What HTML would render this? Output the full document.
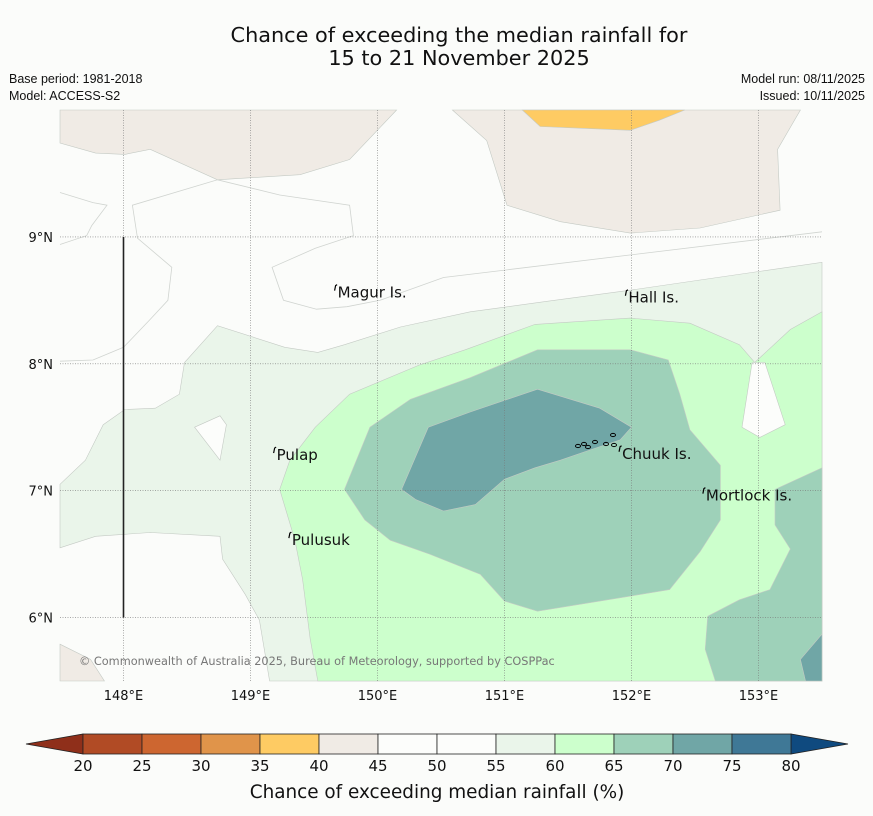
<!DOCTYPE html>
<html><head><meta charset="utf-8">
<style>
body{margin:0;background:#fbfcfa;width:873px;height:816px;overflow:hidden;font-family:"DejaVu Sans",sans-serif;}
</style></head>
<body>
<svg id="chart" width="873" height="816" xmlns="http://www.w3.org/2000/svg" style="position:absolute;left:0;top:0" font-family="DejaVu Sans, sans-serif">
<rect x="0" y="0" width="873" height="816" fill="#fbfcfa"/>
<text x="459" y="42" font-size="20.8" text-anchor="middle" fill="#111">Chance of exceeding the median rainfall for</text>
<text x="459" y="65" font-size="20.8" text-anchor="middle" fill="#111">15 to 21 November 2025</text>
<text x="9" y="83" font-size="12.5" font-family="Liberation Sans, sans-serif" fill="#111">Base period: 1981-2018</text>
<text x="9" y="100" font-size="12.5" font-family="Liberation Sans, sans-serif" fill="#111">Model: ACCESS-S2</text>
<text x="865" y="83" font-size="12.5" font-family="Liberation Sans, sans-serif" fill="#111" text-anchor="end">Model run: 08/11/2025</text>
<text x="865" y="100" font-size="12.5" font-family="Liberation Sans, sans-serif" fill="#111" text-anchor="end">Issued: 10/11/2025</text>
<g id="map"></g>
<g id="cbar"></g>
<text x="437" y="798" font-size="18.4" text-anchor="middle" fill="#111">Chance of exceeding median rainfall (%)</text>
</svg>
<script>
const lonTicks=[148,149,150,151,152,153];
const latTicks=[6,7,8,9];
const binEdges=[20,25,30,35,40,45,50,55,60,65,70,75,80];
const binColors=["#b14b25","#cd6630","#e0944a","#fecb63","#f0ebe5","#fcfdfb","#fcfdfb","#eaf5ea","#ccffcc","#9ed1b9","#70a6a6","#3f7896"];
const underColor="#8f2f1a", overColor="#0f4a7f";
const contourLevels=[40,40,35,40,55,45,60,45,65,65,70,70];
const contourPolys=[
 [[147.5,10],[150.15,10],[149.78,9.61],[149.39,9.49],[148.74,9.45],[148.21,9.69],[148.01,9.65],[147.78,9.66],[147.5,9.74]],
 [[150.59,10],[153.33,10],[153.15,9.69],[153.17,9.21],[152.54,9.07],[151.99,9.03],[151.44,9.12],[151.02,9.25],[150.86,9.76]],
 [[151.14,10],[152.42,10],[152.22,9.92],[151.99,9.84],[151.28,9.87]],
 [[147.5,5.79],[147.74,5.67],[147.85,5.5],[147.5,5.5]],
 [[147.5,7.05],[147.70,7.24],[147.84,7.52],[148.01,7.64],[148.25,7.65],[148.44,7.76],[148.48,8.01],[148.74,8.30],[149.27,8.13],[149.53,8.09],[149.74,8.15],[150.18,8.29],[150.73,8.41],[151.32,8.49],[151.99,8.58],[152.54,8.66],[153.5,8.80],[153.5,5.5],[149.15,5.5],[149.07,5.98],[148.96,6.18],[148.78,6.46],[148.76,6.64],[148.21,6.67],[147.78,6.64],[147.5,6.55]],
 [[148.56,7.50],[148.76,7.59],[148.81,7.52],[148.76,7.24]],
 [[149.23,7.01],[149.31,7.24],[149.51,7.50],[149.78,7.76],[150.33,7.99],[150.69,8.11],[151.24,8.31],[151.99,8.36],[152.46,8.32],[152.85,8.15],[152.97,8.01],[153.25,8.27],[153.5,8.41],[153.5,5.5],[149.53,5.5],[149.47,5.83],[149.41,6.30],[149.35,6.61]],
 [[152.87,7.50],[152.95,8.01],[153.05,8.01],[153.21,7.52],[153.01,7.42]],
 [[149.74,7.01],[149.94,7.50],[150.26,7.72],[150.73,7.89],[151.26,8.11],[151.99,8.11],[152.29,8.03],[152.38,7.76],[152.46,7.48],[152.70,7.20],[152.70,6.77],[152.54,6.52],[152.30,6.22],[151.75,6.13],[151.26,6.05],[151.00,6.13],[150.81,6.34],[150.41,6.50],[150.10,6.61],[149.90,6.77]],
 [[152.60,6.01],[152.85,6.14],[153.09,6.22],[153.25,6.54],[153.13,6.73],[153.13,7.01],[153.5,7.18],[153.5,5.5],[152.66,5.5],[152.58,5.75]],
 [[150.19,7.01],[150.40,7.50],[150.73,7.62],[151.26,7.80],[151.75,7.65],[152.00,7.50],[151.91,7.40],[151.67,7.32],[151.44,7.24],[151.24,7.18],[151.00,7.09],[150.77,6.89],[150.52,6.84],[150.30,6.93]],
 [[153.33,5.67],[153.5,5.87],[153.5,5.5],[153.37,5.5]]
];
const contourLines=[
 [[147.5,9.35],[147.76,9.27],[147.87,9.25],[147.75,9.09],[147.71,9.01],[147.5,8.94]],
 [[147.5,8.02],[147.76,8.03],[148.0,8.13],[148.21,8.35],[148.35,8.50],[148.38,8.76],[148.11,8.99],[148.07,9.25],[148.74,9.45],[149.23,9.33],[149.78,9.25],[149.81,9.01],[149.51,8.91],[149.17,8.76],[149.26,8.50],[149.52,8.43],[149.76,8.45],[150.02,8.50],[150.52,8.68],[153.5,9.04]]
];
const islandNames=["Magur Is.","Hall Is.","Pulap","Chuuk Is.","Mortlock Is.","Pulusuk"];
const islandLon=[149.67,151.96,149.19,151.91,152.57,149.31];
const islandLat=[8.60,8.56,7.32,7.33,7.00,6.65];

const NS="http://www.w3.org/2000/svg";
const X0=60,Y0=110,W=762,H=571,lonMin=147.5,lonMax=153.5,latMin=5.5,latMax=10;
const xs=lon=>X0+(lon-lonMin)/(lonMax-lonMin)*W;
const ys=lat=>Y0+(latMax-lat)/(latMax-latMin)*H;
const cx=v=>83+(v-20)/60*708;
function mk(tag,attrs,parent){const e=document.createElementNS(NS,tag);for(const k in attrs)e.setAttribute(k,attrs[k]);parent.appendChild(e);return e;}
const map=document.getElementById('map');
const colorFor=lv=>binColors[binEdges.indexOf(lv)];
contourPolys.forEach((p,i)=>{
 const pg=mk('polygon',{points:p.map(q=>xs(q[0]).toFixed(1)+','+ys(q[1]).toFixed(1)).join(' '),fill:colorFor(contourLevels[i]),stroke:'#c4cac4','stroke-width':0.6},map);
 
 
});
contourLines.forEach(p=>{
 const pl=mk('polyline',{points:p.map(q=>xs(q[0]).toFixed(1)+','+ys(q[1]).toFixed(1)).join(' '),fill:'none',stroke:'#d0d4d0','stroke-width':0.8},map);
 
 
});
lonTicks.forEach(l=>{
 const ln=mk('line',{x1:xs(l),x2:xs(l),y1:Y0,y2:Y0+H,stroke:'#777','stroke-width':0.6,'stroke-dasharray':'1,1.5'},map);
 
 
 const t=mk('text',{x:xs(l),y:700,'font-size':13,'text-anchor':'middle',fill:'#111'},map);t.textContent=l+'°E';
 
 
});
latTicks.forEach(l=>{
 const ln=mk('line',{x1:X0,x2:X0+W,y1:ys(l),y2:ys(l),stroke:'#777','stroke-width':0.6,'stroke-dasharray':'1,1.5'},map);
 
 
 const t=mk('text',{x:53,y:ys(l)+5,'font-size':13,'text-anchor':'end',fill:'#111'},map);t.textContent=l+'°N';
 
 
});
const vl=mk('line',{x1:xs(148),x2:xs(148),y1:ys(9),y2:ys(6),stroke:'#222','stroke-width':1.6},map);


islandNames.forEach((n,i)=>{
 const x=xs(islandLon[i]),y=ys(islandLat[i]);
 const m=mk('path',{d:`M${x-1},${y+3} L${x},${y-2} L${x+1.5},${y-3}`,stroke:'#000','stroke-width':1.2,fill:'none'},map);
 
 
 const t=mk('text',{x:x+2,y:y+10,'font-size':15,fill:'#111'},map);t.textContent=n;
 
 
});
[[578,446],[584,444],[595,442],[606,444],[613,435],[614,445],[588,447]].forEach(p=>{
 const e=mk('ellipse',{cx:p[0],cy:p[1],rx:2.5,ry:1.6,fill:'none',stroke:'#000','stroke-width':1},map);
 
 
});
const cp=mk('text',{x:79,y:665,'font-size':11.3,fill:'#777'},map);cp.textContent='© Commonwealth of Australia 2025, Bureau of Meteorology, supported by COSPPac';



const cb=document.getElementById('cbar');
const yT=734,hB=20;
const lt=mk('polygon',{points:`26,${yT+hB/2} ${cx(20)},${yT} ${cx(20)},${yT+hB}`,fill:underColor,stroke:'#222','stroke-width':0.8},cb);


const rt=mk('polygon',{points:`848,${yT+hB/2} ${cx(80)},${yT} ${cx(80)},${yT+hB}`,fill:overColor,stroke:'#222','stroke-width':0.8},cb);


binColors.forEach((c,i)=>{
 const r=mk('rect',{x:cx(binEdges[i]),y:yT,width:cx(binEdges[i+1])-cx(binEdges[i]),height:hB,fill:c,stroke:'#222','stroke-width':0.8},cb);
 
 
});
binEdges.forEach(v=>{
 const t=mk('text',{x:cx(v),y:771,'font-size':15,'text-anchor':'middle',fill:'#111'},cb);t.textContent=v;
 
 
});
</script>
</body></html>
